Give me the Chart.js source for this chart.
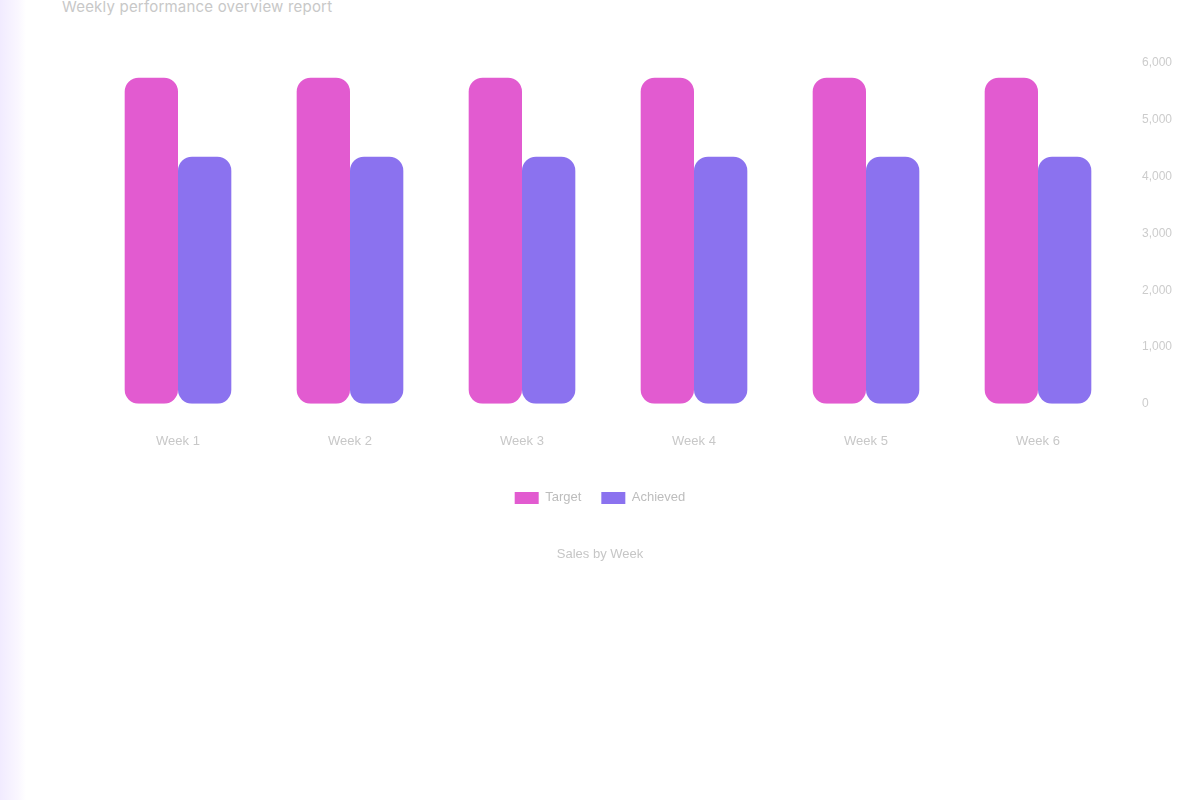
<!DOCTYPE html>
<html>
<head>
<meta charset="utf-8">
<script src="https://cdn.jsdelivr.net/npm/chart.js@4"></script>
<style>
  html, body { margin: 0; padding: 0; background: #ffffff; width: 1200px; height: 800px; overflow: hidden; font-family: "Inter", "Noto Sans", sans-serif; }
  #strip { position: absolute; left: 0; top: 0; width: 26px; height: 800px; background: linear-gradient(to right, #f1ebff, #faf7ff 70%, #ffffff); }
  #heading { position: absolute; left: 62px; top: -3px; font-size: 15px; color: #c8c8c8; letter-spacing: 0.2px; }
  #wrap { position: absolute; left: 0; top: 0; width: 1200px; height: 600px; }
</style>
</head>
<body>
<div id="strip"></div>
<div id="heading">Weekly performance overview report</div>
<div id="wrap"><canvas id="c"></canvas></div>
<script>
const categories = ["Week 1", "Week 2", "Week 3", "Week 4", "Week 5", "Week 6"];
const seriesNames = ["Target", "Achieved"];
const targetValues = [5740, 5740, 5740, 5740, 5740, 5740];
const achievedValues = [4350, 4350, 4350, 4350, 4350, 4350];
const yTicks = [0, 1000, 2000, 3000, 4000, 5000, 6000];
const chartTitle = "Sales by Week";

new Chart(document.getElementById('c'), {
  type: 'bar',
  data: {
    labels: categories,
    datasets: [
      { label: seriesNames[0], data: targetValues, backgroundColor: '#e25bd0', borderRadius: 14, borderSkipped: false },
      { label: seriesNames[1], data: achievedValues, backgroundColor: '#8b72ef', borderRadius: 14, borderSkipped: false }
    ]
  },
  options: {
    responsive: true,
    maintainAspectRatio: false,
    animation: false,
    layout: { padding: { left: 10, right: 10, top: 63, bottom: 28 } },
    datasets: { bar: { barPercentage: 1.0, categoryPercentage: 0.62 } },
    scales: {
      x: {
        grid: { display: false },
        border: { display: false },
        ticks: { color: '#c8c8c8', font: { size: 13 }, padding: 22 }
      },
      yLeft: {
        position: 'left',
        display: true,
        grid: { display: false },
        border: { display: false },
        ticks: { display: false },
        afterFit: (s) => { s.width = 82; }
      },
      y: {
        position: 'right',
        min: yTicks[0],
        max: yTicks[yTicks.length - 1],
        grid: { display: false },
        border: { display: false },
        afterBuildTicks: (axis) => { axis.ticks = yTicks.map(v => ({ value: v })); },
        afterFit: (s) => { s.width = 66; },
        ticks: { color: '#cccccc', font: { size: 12 }, padding: 10 }
      }
    },
    plugins: {
      legend: {
        position: 'bottom',
        labels: { color: '#bdbdbd', font: { size: 13 }, boxWidth: 24, boxHeight: 12, padding: 20 }
      },
      title: {
        display: true,
        text: chartTitle,
        position: 'bottom',
        color: '#c6c6c6',
        font: { size: 13, weight: 'normal' },
        padding: { top: 32, bottom: 10 }
      },
      tooltip: { enabled: false }
    }
  }
});
</script>
</body>
</html>
